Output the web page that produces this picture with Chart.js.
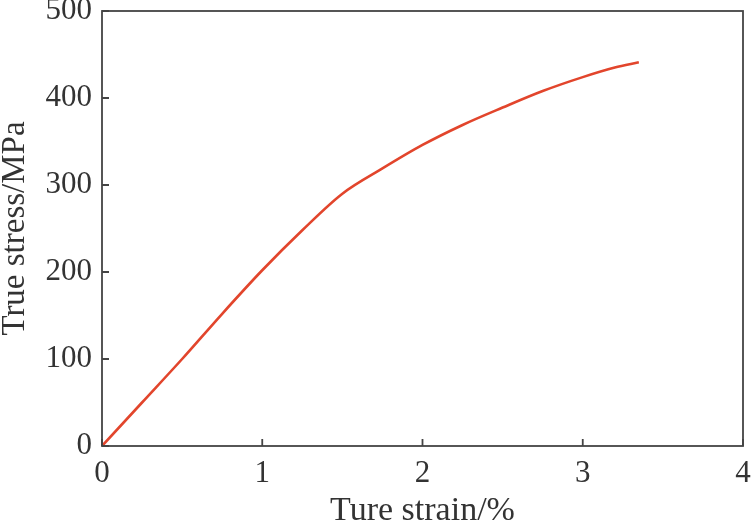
<!DOCTYPE html>
<html>
<head>
<meta charset="utf-8">
<script src="https://cdn.jsdelivr.net/npm/chart.js@4.4.1/dist/chart.umd.min.js"></script>
<style>
  html, body { margin: 0; padding: 0; background: #fff; }
  #wrap { width: 751px; height: 525px; }
</style>
</head>
<body>
<div id="wrap"><canvas id="c"></canvas></div>
<script>
// true strain (%) vs true stress (MPa)
var strain = [0, 0.25, 0.5, 0.75, 1, 1.25, 1.5, 1.75, 2, 2.25, 2.5, 2.75, 3, 3.2, 3.35];
var stress = [0, 50, 100, 152, 202, 248, 290, 319, 346, 369, 389, 408, 424, 435, 441];
var xTicks = [0, 1, 2, 3, 4];
var yTicks = [0, 100, 200, 300, 400, 500];

var points = strain.map(function(s, i) { return { x: s, y: stress[i] }; });

// frame round the plot and inward ticks
var framePlugin = {
  id: 'frame',
  afterDraw: function(chart) {
    var ctx = chart.ctx;
    var a = chart.chartArea;
    var xs = chart.scales.x, ys = chart.scales.y;
    ctx.save();
    ctx.strokeStyle = '#444';
    ctx.lineWidth = 1.8;
    ctx.strokeRect(a.left, a.top, a.right - a.left, a.bottom - a.top);
    ctx.beginPath();
    xTicks.forEach(function(v) {
      var px = xs.getPixelForValue(v);
      ctx.moveTo(px, a.bottom);
      ctx.lineTo(px, a.bottom - 7);
    });
    yTicks.forEach(function(v) {
      var py = ys.getPixelForValue(v);
      ctx.moveTo(a.left, py);
      ctx.lineTo(a.left + 7, py);
    });
    ctx.stroke();
    ctx.restore();
  }
};

var serif = 'Liberation Serif';

new Chart(document.getElementById('c'), {
  type: 'line',
  data: {
    datasets: [{
      data: points,
      borderColor: '#e2452c',
      borderWidth: 2.6,
      pointRadius: 0,
      tension: 0.4,
      cubicInterpolationMode: 'monotone',
      fill: false
    }]
  },
  options: {
    responsive: true,
    maintainAspectRatio: false,
    animation: false,
    layout: { padding: { top: 11, right: 8, left: 0, bottom: 0 } },
    plugins: { legend: { display: false }, tooltip: { enabled: false } },
    scales: {
      x: {
        type: 'linear',
        min: 0, max: 4,
        afterBuildTicks: function(s) { s.ticks = xTicks.map(function(v) { return { value: v }; }); },
        grid: { display: false, drawTicks: false },
        border: { display: false },
        ticks: { color: '#333', font: { family: serif, size: 31 }, padding: 9 },
        title: { display: true, text: 'Ture strain/%', color: '#333', font: { family: serif, size: 34, lineHeight: 0.8 }, padding: { top: 0, bottom: 0 } },
        afterFit: function(s) { s.height = 79; s.paddingLeft = 0; s.paddingRight = 0; }
      },
      y: {
        min: 0, max: 500,
        afterBuildTicks: function(s) { s.ticks = yTicks.map(function(v) { return { value: v }; }); },
        grid: { display: false, drawTicks: false },
        border: { display: false },
        ticks: { color: '#333', font: { family: serif, size: 31 }, padding: 10 },
        title: { display: true, text: 'True stress/MPa', color: '#333', font: { family: serif, size: 33, lineHeight: 0.9 }, padding: { top: 0, bottom: 0 } },
        afterFit: function(s) { s.width = 102; s.paddingTop = 0; s.paddingBottom = 0; }
      }
    }
  },
  plugins: [framePlugin]
});
</script>
</body>
</html>
